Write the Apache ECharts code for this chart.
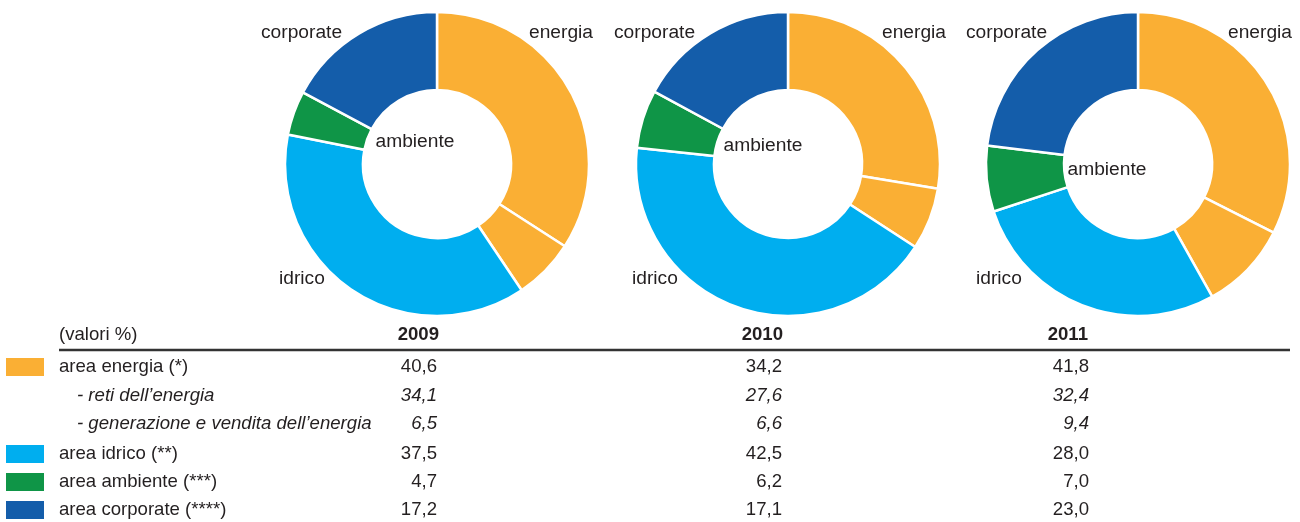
<!DOCTYPE html>
<html>
<head>
<meta charset="utf-8">
<script src="https://cdn.jsdelivr.net/npm/echarts@6/dist/echarts.min.js"></script>
<style>
    html, body { margin: 0; padding: 0; background: #fff; }
    #chart { width: 1300px; height: 522px; }
</style>
</head>
<body>
<div id="chart"></div>
<script>
// dati (valori %)
var years = ['2009', '2010', '2011'];
var energia = [40.6, 34.2, 41.8];
var reti = [34.1, 27.6, 32.4];
var generazione = [6.5, 6.6, 9.4];
var idrico = [37.5, 42.5, 28.0];
var ambiente = [4.7, 6.2, 7.0];
var corporate = [17.2, 17.1, 23.0];

var COLORS = { energia: '#FAAF34', idrico: '#00AEEF', ambiente: '#0F9547', corporate: '#145DAA' };
var FONT = '"Liberation Sans", Arial, sans-serif';
var INK = '#231F20';

var chart = echarts.init(document.getElementById('chart'), null, { renderer: 'canvas' });

// posizioni delle ciambelle e delle etichette
var centers = [437, 788, 1138], cy = 164;
var lbl = [
    { en: 593, co: 261, id: 279, amX: 415, amY: 142 },
    { en: 946, co: 614, id: 632, amX: 763, amY: 146 },
    { en: 1292, co: 966, id: 976, amX: 1107, amY: 170 }
];
var colRight = [437, 782, 1089];
var headRight = [439, 783, 1088];

var fmt = (v) => v.toFixed(1).replace('.', ',');

var txt = (text, x, y, align, opt) => {
    opt = opt || {};
    return {
        type: 'text', x: x, y: y, silent: true,
        style: {
            text: text, fill: INK,
            font: (opt.style || '') + ' ' + (opt.weight || 'normal') + ' ' + (opt.size || 18.6) + 'px ' + FONT,
            textAlign: align, textVerticalAlign: 'middle',
            align: align, verticalAlign: 'middle'
        }
    };
};

var series = [], graphic = [];
for (let i = 0; i < years.length; i++) {
    series.push({
        type: 'pie',
        center: [centers[i], cy],
        radius: [74, 152],
        startAngle: 90,
        clockwise: true,
        silent: true,
        label: { show: false },
        labelLine: { show: false },
        itemStyle: { borderColor: '#fff', borderWidth: 2.5 },
        data: [
            { name: 'reti', value: reti[i], itemStyle: { color: COLORS.energia } },
            { name: 'generazione', value: generazione[i], itemStyle: { color: COLORS.energia } },
            { name: 'idrico', value: idrico[i], itemStyle: { color: COLORS.idrico } },
            { name: 'ambiente', value: ambiente[i], itemStyle: { color: COLORS.ambiente } },
            { name: 'corporate', value: corporate[i], itemStyle: { color: COLORS.corporate } }
        ]
    });
    graphic.push(txt('energia', lbl[i].en, 33, 'right', { size: 19.2 }));
    graphic.push(txt('corporate', lbl[i].co, 33, 'left', { size: 19.2 }));
    graphic.push(txt('idrico', lbl[i].id, 279, 'left', { size: 19.2 }));
    graphic.push(txt('ambiente', lbl[i].amX, lbl[i].amY, 'center', { size: 19.2 }));
}

// tabella
graphic.push(txt('(valori %)', 59, 335, 'left'));
for (let i = 0; i < years.length; i++) {
    graphic.push(txt(years[i], headRight[i], 335, 'right', { weight: 'bold' }));
}
graphic.push({
    type: 'line', silent: true,
    shape: { x1: 59, y1: 350, x2: 1290, y2: 350 },
    style: { stroke: '#333', lineWidth: 2.5 }
});

var rows = [
    { label: 'area energia (*)', vals: energia, color: COLORS.energia, y: 367 },
    { label: '- reti dell\u2019energia', vals: reti, italic: true, y: 396 },
    { label: '- generazione e vendita dell\u2019energia', vals: generazione, italic: true, y: 424 },
    { label: 'area idrico (**)', vals: idrico, color: COLORS.idrico, y: 454 },
    { label: 'area ambiente (***)', vals: ambiente, color: COLORS.ambiente, y: 482 },
    { label: 'area corporate (****)', vals: corporate, color: COLORS.corporate, y: 510 }
];
for (let r of rows) {
    let st = r.italic ? 'italic' : '';
    if (r.color) {
        graphic.push({
            type: 'rect', silent: true,
            shape: { x: 6, y: r.y - 9, width: 38, height: 18 },
            style: { fill: r.color }
        });
    }
    graphic.push(txt(r.label, r.italic ? 77 : 59, r.y, 'left', { style: st }));
    for (let i = 0; i < years.length; i++) {
        graphic.push(txt(fmt(r.vals[i]), colRight[i], r.y, 'right', { style: st }));
    }
}

chart.setOption({
    animation: false,
    backgroundColor: '#fff',
    series: series,
    graphic: graphic
});
</script>
</body>
</html>
